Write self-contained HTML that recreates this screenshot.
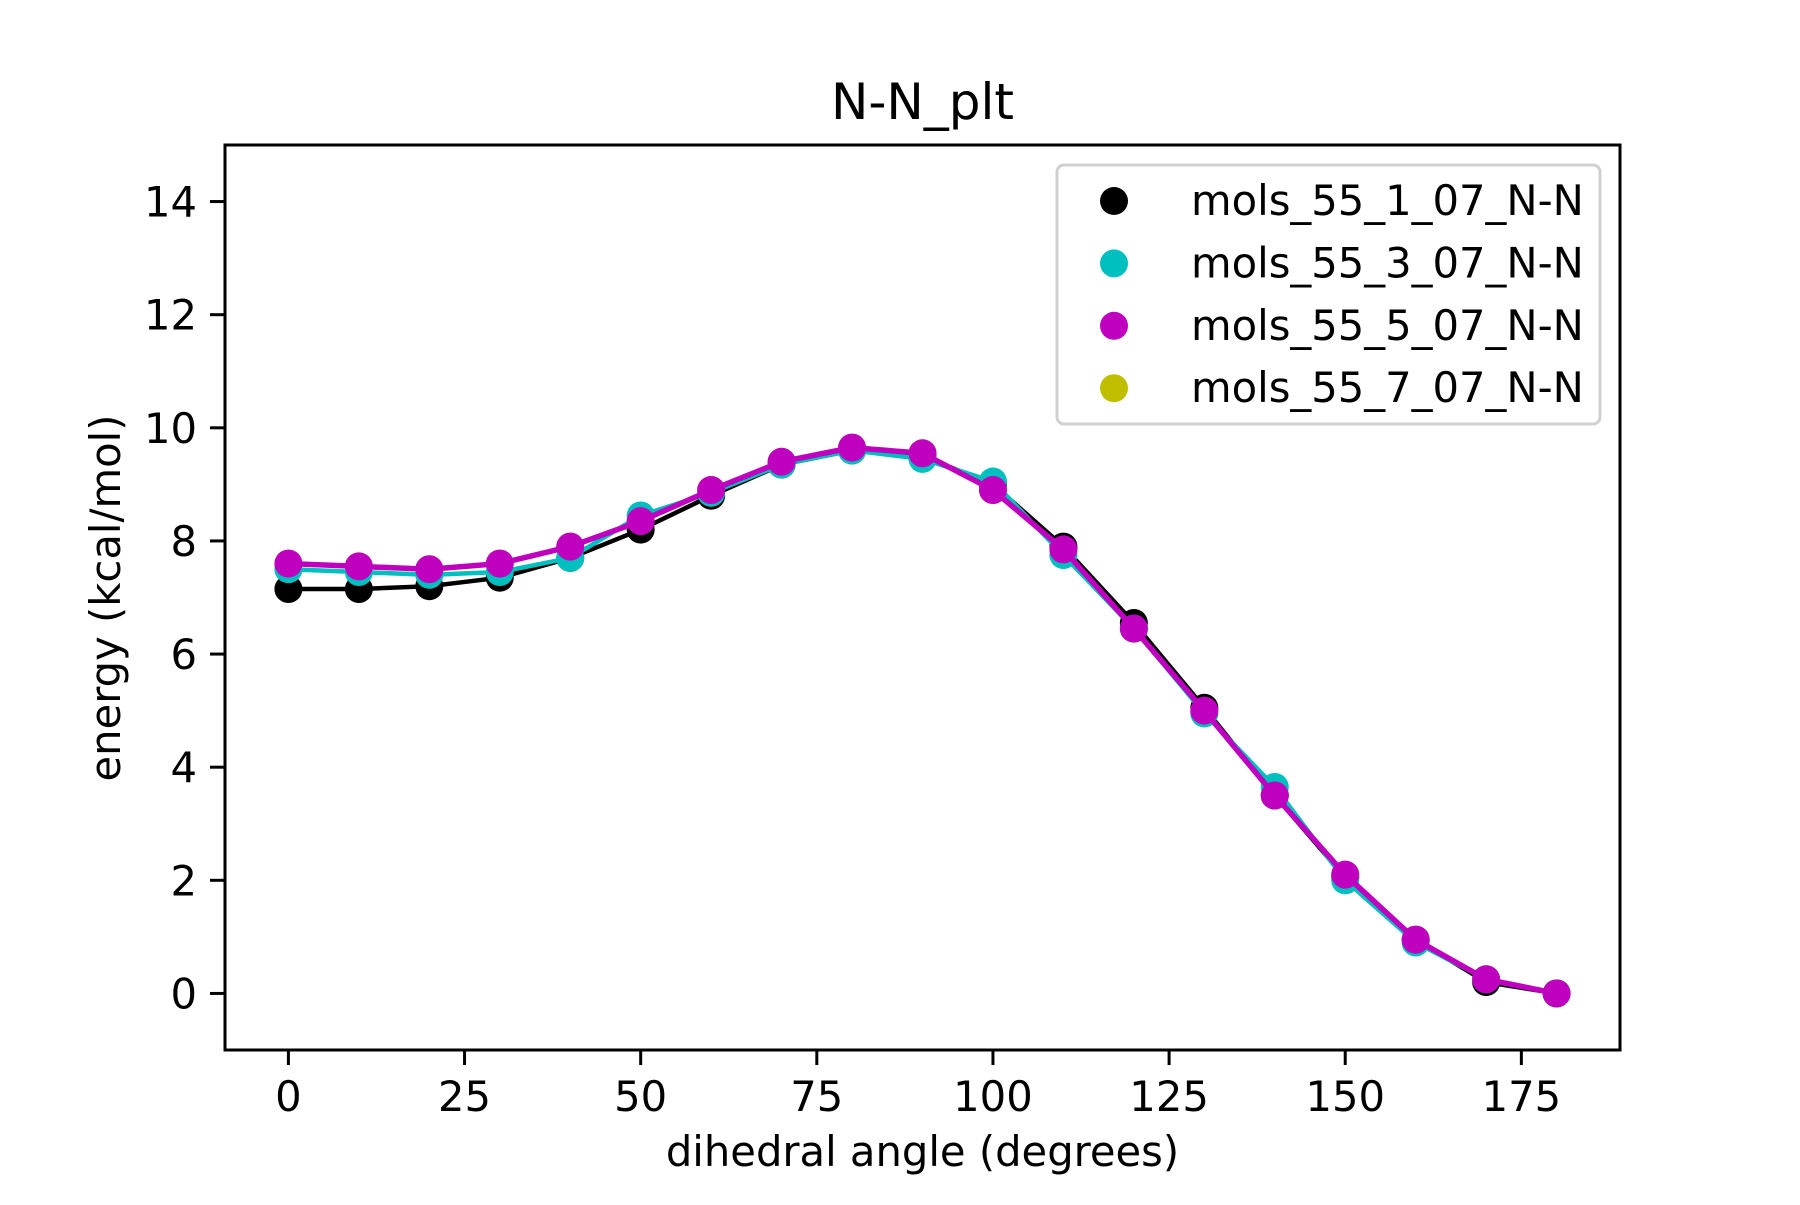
<!DOCTYPE html>
<html><head><meta charset="utf-8"><style>
body{margin:0;background:#fff}
svg{font-family:"DejaVu Sans","Liberation Sans",sans-serif}
</style></head><body>
<svg id="chart" width="1800" height="1200" xmlns="http://www.w3.org/2000/svg"></svg>
<script>
const angles=[0,10,20,30,40,50,60,70,80,90,100,110,120,130,140,150,160,170,180];
const black=[7.15,7.15,7.2,7.35,7.7,8.2,8.8,9.35,9.6,9.5,9.0,7.9,6.55,5.05,3.5,2.05,0.95,0.2,0];
const cyan=[7.5,7.45,7.4,7.45,7.7,8.45,8.85,9.35,9.6,9.45,9.05,7.75,6.45,4.95,3.65,2.0,0.9,0.25,0];
const magenta=[7.6,7.55,7.5,7.6,7.9,8.35,8.9,9.4,9.65,9.55,8.9,7.85,6.45,5.0,3.5,2.1,0.95,0.25,0];
const yellow=[7.6,7.55,7.5,7.6,7.9,8.35,8.9,9.4,9.65,9.55,8.9,7.85,6.45,5.0,3.5,2.1,0.95,0.25,0];
const xTicks=[0,25,50,75,100,125,150,175];
const yTicks=[0,2,4,6,8,10,12,14];
const seriesNames=["mols_55_1_07_N-N","mols_55_3_07_N-N","mols_55_5_07_N-N","mols_55_7_07_N-N"];

const L=225,R=1620,T=145,B=1050,X0=-9,X1=189,Y0=-1,Y1=15;
const sx=v=>L+(v-X0)/(X1-X0)*(R-L);
const sy=v=>B-(v-Y0)/(Y1-Y0)*(B-T);
const svg=document.getElementById('chart');
const NS="http://www.w3.org/2000/svg";
function mk(tag,attrs,parent){const e=document.createElementNS(NS,tag);for(const k in attrs)e.setAttribute(k,attrs[k]);(parent||svg).appendChild(e);return e;}

const series=[
 {d:yellow,c:"#bfbf00",w:5,name:"series-yellow"},
 {d:black,c:"#000000",w:4.5,name:"series-black"},
 {d:cyan,c:"#00bfbf",w:4.5,name:"series-cyan"},
 {d:magenta,c:"#bf00bf",w:5.5,name:"series-magenta"}];
series.forEach(s=>{
 const g=mk('g',{});
 
 
 const p=mk('polyline',{points:angles.map((a,i)=>sx(a)+','+sy(s.d[i])).join(' '),fill:'none',stroke:s.c,'stroke-width':s.w,'stroke-linejoin':'round'},g);
 
 
 angles.forEach((a,i)=>{
  const c=mk('circle',{cx:sx(a),cy:sy(s.d[i]),r:14,fill:s.c},g);
  
  
 });
});

const frame=mk('rect',{x:L,y:T,width:R-L,height:B-T,fill:'none',stroke:'#000','stroke-width':3});



xTicks.forEach(v=>{
 const x=sx(v);
 const t=mk('line',{x1:x,x2:x,y1:B,y2:B+15,stroke:'#000','stroke-width':3});
 
 
 const lb=mk('text',{x:x,y:1111,'font-size':41.7,'text-anchor':'middle'});
 lb.textContent=v;
 
 
});
yTicks.forEach(v=>{
 const y=sy(v);
 const t=mk('line',{x1:L-15,x2:L,y1:y,y2:y,stroke:'#000','stroke-width':3});
 
 
 const lb=mk('text',{x:197,y:y+15,'font-size':41.7,'text-anchor':'end'});
 lb.textContent=v;
 
 
});

const title=mk('text',{x:(L+R)/2,y:119,'font-size':50,'text-anchor':'middle'});
title.textContent="N-N_plt";


const xl=mk('text',{x:(L+R)/2,y:1166,'font-size':41.7,'text-anchor':'middle'});
xl.textContent="dihedral angle (degrees)";


const yl=mk('text',{x:0,y:0,'font-size':41.7,'text-anchor':'middle',transform:'translate(120,598) rotate(-90)'});
yl.textContent="energy (kcal/mol)";



const lg=mk('g',{});


mk('rect',{x:1057,y:165,width:543,height:259,rx:7,fill:'#fff','fill-opacity':0.8,stroke:'#d0d0d0','stroke-width':3},lg);
const lc=["#000000","#00bfbf","#bf00bf","#bfbf00"];
seriesNames.forEach((n,i)=>{
 const y=201+i*62.4;
 const e=mk('g',{},lg);
 
 
 mk('circle',{cx:1114,cy:y,r:14,fill:lc[i]},e);
 const t=mk('text',{x:1191,y:y+14,'font-size':41.7},e);
 t.textContent=n;
});
</script>
</body></html>
